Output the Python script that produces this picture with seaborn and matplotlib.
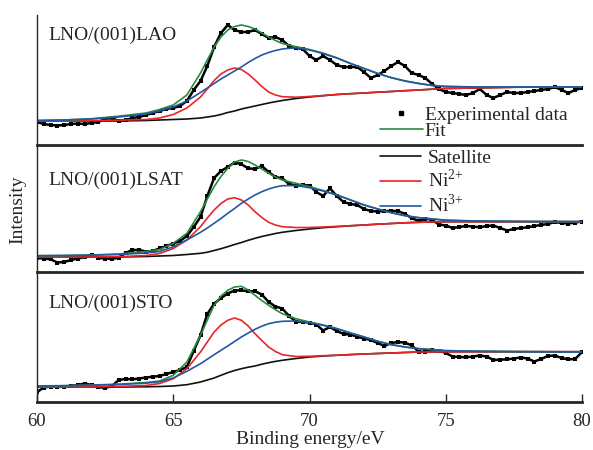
import numpy as np
import pandas as pd
import seaborn as sns
import matplotlib.pyplot as plt
from matplotlib.lines import Line2D

# ----------------------------------------------------------------------------
# Data (intensity in arbitrary units per panel)
# ----------------------------------------------------------------------------
SAMPLES = ["LNO/(001)LAO", "LNO/(001)LSAT", "LNO/(001)STO"]

X_EXP = np.arange(60, 80.001, 0.25)

EXP_LAO = [23, 21, 20, 19.5, 20, 21, 21.5, 21, 22, 23,
           26, 27, 24, 25, 27, 28, 30, 32, 34, 36,
           37, 39, 44, 55, 64, 79, 98, 112, 120, 115,
           113, 113, 115, 111, 107, 108, 105, 99, 97, 96,
           89, 85, 89, 85, 80, 78, 78, 78, 73, 67,
           70, 74, 79, 83, 79, 72, 70, 67, 61, 56,
           53, 52, 51, 50, 52, 56, 50, 47, 50, 53,
           52, 52, 53, 54, 55, 56, 58, 55, 52, 55, 57]
EXP_LSAT = [14, 13.5, 12.7, 9.5, 10, 12, 13.5, 15, 17.5, 14,
            13.5, 13, 14.5, 19, 22, 22, 20.5, 21, 23.7, 26,
            28.5, 31, 36, 45, 55, 76, 94, 101, 105, 109.5,
            107.7, 103.7, 103, 106, 100, 95, 93.7, 88, 86.5, 87,
            86.5, 80, 76, 83.7, 76, 70, 68, 67, 63, 61,
            60.5, 61, 61, 61, 58, 54, 51, 53.5, 52, 47.5,
            46.5, 44, 45, 46, 45.5, 44.7, 46, 46.5, 44, 41.5,
            43, 44, 44.7, 46, 47, 48, 50, 49, 48.5, 49.5, 50.5]
EXP_STO = [10, 14.5, 15.5, 15, 15.5, 16, 17, 18.5, 17, 15,
           14, 16, 22, 23, 22.7, 23.5, 24.5, 25.3, 26, 28,
           30, 32, 35, 51, 66.7, 88, 98.3, 104, 108.5, 111.5,
           111.7, 110.7, 110.7, 107.5, 100, 95.5, 93.5, 86, 80.5, 80,
           79.5, 77.5, 71.5, 75, 71, 68, 67.5, 65.3, 63.5, 62,
           59, 56, 59, 60, 59.3, 56.7, 50.5, 50, 52, 51.5,
           49, 45.5, 45, 44.7, 45.5, 46.5, 45.5, 42, 42.3, 42.7,
           43.5, 44.5, 43.5, 40.5, 43, 46, 46.5, 44, 42.7, 43, 50]

X_FIT = [60, 61, 62, 63, 64, 64.5, 65, 65.5, 66, 66.25, 66.5, 66.75, 67,
         67.25, 67.5, 67.75, 68, 68.25, 68.5, 68.75, 69, 69.5, 70, 70.5,
         71, 71.5, 72, 72.5, 73, 73.5, 74, 74.5, 75, 76, 77, 78, 79, 80]

SAT_LAO = [24, 24, 24, 24, 24.5, 25, 25.5, 26, 27, 28, 29, 30.5, 32.5, 34,
           36, 37.5, 39, 40.5, 42, 43.3, 44.5, 46.5, 48, 49.3, 50.5, 51.3,
           52, 52.8, 53.5, 54.3, 55, 55.8, 56.5, 57, 57.5, 58, 58, 58]
NI2_LAO = [24, 24, 24.3, 24.8, 25.5, 27, 30.5, 37, 48, 56, 64.5, 71, 75, 77,
           75.5, 71, 65, 58.5, 53, 50, 48.3, 47.8, 48.5, 49.5, 50.5, 51.3,
           52, 52.8, 53.5, 54.3, 55, 55.8, 56.5, 57, 57.5, 58, 58, 58]
NI3_LAO = [24.5, 25, 26, 28, 31, 34, 38, 44, 52.5, 57, 61.5, 66, 70, 74, 78,
           82.5, 86.5, 90, 92.5, 94.5, 96, 97.3, 95, 91.5, 87, 81.5, 76.5,
           71.5, 67.3, 64, 61.5, 59.5, 58.5, 58, 58, 58, 58, 58]
FIT_LAO = [24.5, 25, 26.3, 28.8, 32, 35.5, 40, 50, 72, 85, 98, 108, 115,
           118.5, 120, 118.5, 116, 112, 108, 104.5, 101.5, 98.3, 95.5, 91.8,
           87.2, 81.6, 76.6, 71.6, 67.4, 64.1, 61.6, 59.6, 58.6, 58.1, 58,
           58, 58, 58]

SAT_LSAT = [15, 15, 15, 15, 15.5, 16, 16.5, 17.5, 18.7, 19.8, 21.5, 23.3,
            25.3, 27.5, 29.5, 31.7, 33.7, 35.5, 37, 38.5, 39.7, 41.5, 43,
            44.3, 45.3, 46.2, 47, 47.8, 48.5, 49.2, 49.7, 50, 50.3, 50.3,
            50.3, 50.3, 50.3, 50.3]
NI2_LSAT = [15, 15, 15, 15.3, 16.5, 18.5, 23.5, 32, 45.3, 54, 62, 68.5, 73,
            74.3, 72, 67, 60.3, 54.5, 49.7, 47, 45.3, 44.5, 44.5, 45, 45.6,
            46.3, 47, 47.8, 48.5, 49.2, 49.7, 50, 50.3, 50.3, 50.3, 50.3,
            50.3, 50.3]
NI3_LSAT = [16.3, 16.5, 16.8, 17.5, 19, 20.5, 25.3, 32, 39.7, 44, 48.7, 53.5,
            58.7, 63.5, 68.7, 73, 77, 80.3, 83, 85, 86.3, 86.5, 84.3, 81, 77,
            72, 67, 63, 59.3, 56.3, 54.3, 53, 51.7, 51, 50.7, 50.5, 50.4, 50.3]
FIT_LSAT = [16.3, 16.5, 17, 18, 20.5, 22.5, 28.7, 38.7, 60.3, 73, 85.3, 95.5,
            103.7, 110, 112, 110.5, 107, 103, 98.7, 95, 92, 88.7, 85.3, 81.5,
            77.2, 72.1, 67.1, 63.1, 59.4, 56.4, 54.4, 53.1, 51.8, 51.1, 50.7,
            50.5, 50.4, 50.3]

SAT_STO = [15, 15, 15, 15, 15.2, 15.5, 16, 17.3, 20, 22, 24, 26.7, 29.3,
           31.5, 33.3, 34.8, 36, 37.8, 39.3, 40.6, 41.7, 43.5, 45, 46, 46.7,
           47.4, 48, 48.5, 49, 49.5, 50, 50, 50.2, 50.3, 50.3, 50.3, 50.3, 50.3]
NI2_STO = [15, 15, 15.2, 15.6, 16.5, 18.5, 23.3, 33.3, 50, 60, 70, 77, 81.7,
           84, 81.7, 76, 68.3, 61.5, 55, 50.5, 47.3, 45.5, 45.7, 46.3, 46.8,
           47.4, 48, 48.5, 49, 49.5, 50, 50, 50.2, 50.3, 50.3, 50.3, 50.3, 50.3]
NI3_STO = [16, 16.3, 16.8, 17.5, 18.8, 20.3, 24, 30.7, 38.3, 42.8, 47.3, 51.7,
           56, 60.5, 65, 69, 72.7, 75.8, 78.3, 79.8, 80.7, 81, 79.3, 76.7,
           73.3, 69, 65, 60.7, 57.3, 55, 53.3, 52.3, 51.3, 50.8, 50.5, 50.3,
           50.2, 50]
FIT_STO = [16, 16.3, 17, 17.8, 19.5, 21, 26.7, 40, 66.7, 82, 96.7, 106,
           111.7, 115, 115.7, 112, 106.7, 101.5, 96.7, 92.3, 88.3, 83.3, 80,
           77, 73.5, 69.1, 65.1, 60.8, 57.4, 55.1, 53.4, 52.4, 51.4, 50.8,
           50.5, 50.3, 50.2, 50]

EXP = [EXP_LAO, EXP_LSAT, EXP_STO]
SAT = [SAT_LAO, SAT_LSAT, SAT_STO]
NI2 = [NI2_LAO, NI2_LSAT, NI2_STO]
NI3 = [NI3_LAO, NI3_LSAT, NI3_STO]
FIT = [FIT_LAO, FIT_LSAT, FIT_STO]

X_TICKS = [60, 65, 70, 75, 80]

# ----------------------------------------------------------------------------
# Style
# ----------------------------------------------------------------------------
sns.set_style("ticks")
plt.rcParams["font.family"] = ["Liberation Serif", "DejaVu Serif"]
plt.rcParams["mathtext.fontset"] = "custom"
plt.rcParams["mathtext.rm"] = "Liberation Serif"

NI2_LABEL = "Ni$^{2{+}}$"
NI3_LABEL = "Ni$^{3{+}}$"

PALETTE = {
    "Satellite": "#111111",
    NI2_LABEL: "#E8262A",
    "Fit": "#2A8A3E",
    NI3_LABEL: "#2456A6",
}
DRAW_ORDER = ["Satellite", NI2_LABEL, "Fit", NI3_LABEL]

W, H = 593, 450
LEFT_PX, RIGHT_PX = 37, 582
PANEL_PX = [(15, 145), (145, 272), (272, 402)]
LABEL_Y = [110, 92, 99]

fig = plt.figure(figsize=(W / 100, H / 100), dpi=100)

for i, (top, bot) in enumerate(PANEL_PX):
    ax = fig.add_axes([LEFT_PX / W, 1 - bot / H, (RIGHT_PX - LEFT_PX) / W, (bot - top) / H])

    comp = pd.concat([
        pd.DataFrame({"E": X_FIT, "I": SAT[i], "Component": "Satellite"}),
        pd.DataFrame({"E": X_FIT, "I": NI2[i], "Component": NI2_LABEL}),
        pd.DataFrame({"E": X_FIT, "I": FIT[i], "Component": "Fit"}),
        pd.DataFrame({"E": X_FIT, "I": NI3[i], "Component": NI3_LABEL}),
    ])

    # experimental points: small squares joined by a thin trace
    sns.lineplot(x=X_EXP, y=EXP[i], color="black", lw=1.8, marker="s",
                 markersize=3.1, markeredgewidth=0, ax=ax)
    sns.lineplot(data=comp, x="E", y="I", hue="Component", hue_order=DRAW_ORDER,
                 palette=PALETTE, estimator=None, sort=False, lw=1.2,
                 legend=False, ax=ax)

    ax.set_xlim(60, 80)
    ax.set_ylim(0, bot - top)
    ax.set_xlabel("")
    ax.set_ylabel("")
    ax.set_yticks([])
    ax.spines[["top", "right"]].set_visible(False)
    ax.spines["bottom"].set_linewidth(2.0)
    ax.spines["left"].set_linewidth(1.0)
    ax.patch.set_alpha(0)

    ax.text(60.42, LABEL_Y[i], SAMPLES[i], fontsize=14, va="center", ha="left")

    if i < 2:
        ax.set_xticks([])
    else:
        ax.set_xticks(X_TICKS)
        ax.tick_params(axis="x", direction="in", length=6, width=1,
                       labelsize=13.5, pad=8)

fig.text(18 / W, 1 - 210 / H, "Intensity", rotation=90, fontsize=14,
         ha="center", va="center")
fig.text(310 / W, 1 - 440 / H, "Binding energy/eV", fontsize=14,
         ha="center", va="center")

# Legends
exp_h = Line2D([], [], ls="none", marker="s", color="black", markersize=3.5)
fit_h = Line2D([], [], color=PALETTE["Fit"], lw=1.2)
fig.legend(handles=[exp_h, fit_h], labels=["Experimental data", "Fit"],
           loc="upper left", bbox_to_anchor=(380 / W, 1 - 106 / H),
           frameon=False, fontsize=14, handlelength=2.2,
           handletextpad=0.1, labelspacing=-0.05, borderpad=0,
           borderaxespad=0, numpoints=1)

comp_h = [Line2D([], [], color=PALETTE[k], lw=1.2)
          for k in ["Satellite", NI2_LABEL, NI3_LABEL]]
fig.legend(handles=comp_h, labels=["Satellite", NI2_LABEL, NI3_LABEL],
           loc="upper left", bbox_to_anchor=(380 / W, 1 - 149 / H),
           frameon=False, fontsize=14, handlelength=2.1,
           handletextpad=0.35, labelspacing=0.12, borderpad=0,
           borderaxespad=0)

fig.savefig("out.png", dpi=100)
